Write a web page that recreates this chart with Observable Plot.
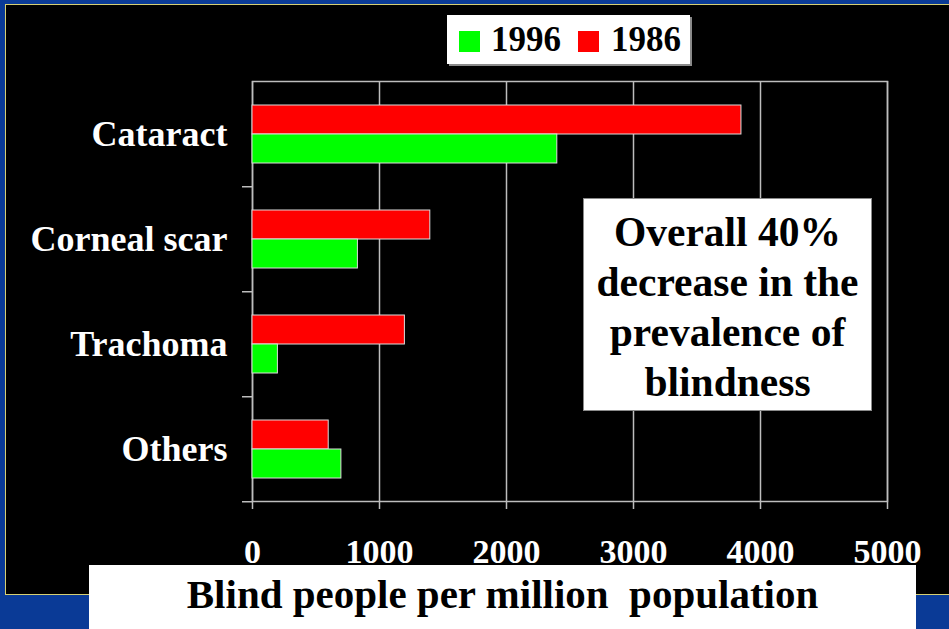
<!DOCTYPE html>
<html>
<head>
<meta charset="utf-8">
<script src="https://cdn.jsdelivr.net/npm/d3@7"></script>
<script src="https://cdn.jsdelivr.net/npm/@observablehq/plot@0.6"></script>
<style>
  html, body { margin: 0; padding: 0; }
  body {
    width: 949px; height: 629px; overflow: hidden; position: relative;
    background: #0a3a96;
    font-family: "Liberation Serif", "Times New Roman", serif; font-weight: bold;
  }
  #panel {
    position: absolute; left: 5px; top: 4px; width: 950px; height: 589px;
    background: #000; border-left: 1px solid #d6cf72; border-top: 1px solid #d6cf72; border-bottom: 1px solid #d6cf72;
  }
  #chart { position: absolute; left: 0; top: 0; }
  #legend {
    position: absolute; left: 447px; top: 15px; width: 243px; height: 49px;
    background: #fff; box-shadow: 2px 2px 0 #8a8a8a;
  }
  #legend .sw { position: absolute; top: 16px; width: 21px; height: 21px; }
  #legend .lb { position: absolute; top: 3px; font-size: 35px; line-height: 44px; color: #000; }
  #note {
    position: absolute; left: 583px; top: 198px; width: 289px; height: 213px; box-sizing: border-box;
    background: #fff; border: 1px solid #8a8a8a; padding-top: 8px;
    text-align: center; font-size: 41.5px; line-height: 50px; color: #000;
  }
  #xtitle {
    position: absolute; left: 89px; top: 565px; width: 827px; height: 70px;
    background: #fff; text-align: center; font-size: 41px; line-height: 50px; color: #000;
    padding-top: 4px; box-sizing: border-box; white-space: pre;
  }
</style>
</head>
<body>
<div id="panel"></div>
<div id="chart"></div>
<div id="legend"></div>
<div id="note">Overall 40%<br>decrease in the<br>prevalence of<br>blindness</div>
<div id="xtitle">Blind people per million  population</div>
<script>
// Causes of blindness, blind people per million population
const causes = ["Cataract", "Corneal scar", "Trachoma", "Others"];
const years = ["1986", "1996"];
const values1986 = [3850, 1400, 1200, 600];
const values1996 = [2400, 830, 200, 700];
const xTicks = [0, 1000, 2000, 3000, 4000, 5000];
const yearColors = ["#ff0000", "#00ff00"];
const legendOrder = ["1996", "1986"];

const rows = causes.flatMap((cause, i) => [
  {cause, year: "1986", value: values1986[i]},
  {cause, year: "1996", value: values1996[i]}
]);

const W = 949, H = 629;
const mTop = 80, mBottom = 127, mLeft = 252, mRight = 62;
const bandHalf = (H - mTop - mBottom) / causes.length / 2;
const gridColor = "#bdbdbd";

const chart = Plot.plot({
  width: W, height: H,
  marginTop: mTop, marginBottom: mBottom, marginLeft: mLeft, marginRight: mRight,
  style: {background: "transparent", fontFamily: "'Liberation Serif', serif", fontWeight: "bold", overflow: "visible"},
  x: {domain: [0, 5000]},
  y: {domain: years, paddingInner: 0, paddingOuter: 0.79, axis: null},
  fy: {domain: causes, padding: 0, axis: null},
  color: {domain: years, range: yearColors},
  marks: [
    Plot.gridX(xTicks, {stroke: gridColor, strokeOpacity: 1, strokeWidth: 1.5}),
    Plot.frame({facet: "super", stroke: gridColor, strokeWidth: 1.5}),
    Plot.barX(rows, {fy: "cause", y: "year", x: "value", fill: "year", stroke: "#dcdcdc", strokeWidth: 1}),
    // category boundary ticks on the left edge
    Plot.axisFy({anchor: "left", tickSize: 10, tickFormat: () => "", dy: bandHalf, stroke: gridColor, strokeWidth: 1.5, label: null}),
    Plot.axisFy({anchor: "left", tickSize: 0, tickPadding: 25, fontSize: 36, fill: "white", label: null}),
    Plot.axisX(xTicks, {anchor: "bottom", tickSize: 8, tickPadding: 29, fontSize: 34, tickFormat: d3.format("d"), fill: "white", stroke: gridColor, strokeWidth: 1.5, label: null})
  ]
});
document.getElementById("chart").appendChild(chart);

// legend: 1996 then 1986
const legend = d3.select("#legend");
const swX = [12, 131], lbX = [44, 164];
legendOrder.forEach((yr, i) => {
  legend.append("div").attr("class", "sw").style("left", swX[i] + "px")
    .style("background", yearColors[years.indexOf(yr)]);
  legend.append("div").attr("class", "lb").style("left", lbX[i] + "px").text(yr);
});
</script>
</body>
</html>
